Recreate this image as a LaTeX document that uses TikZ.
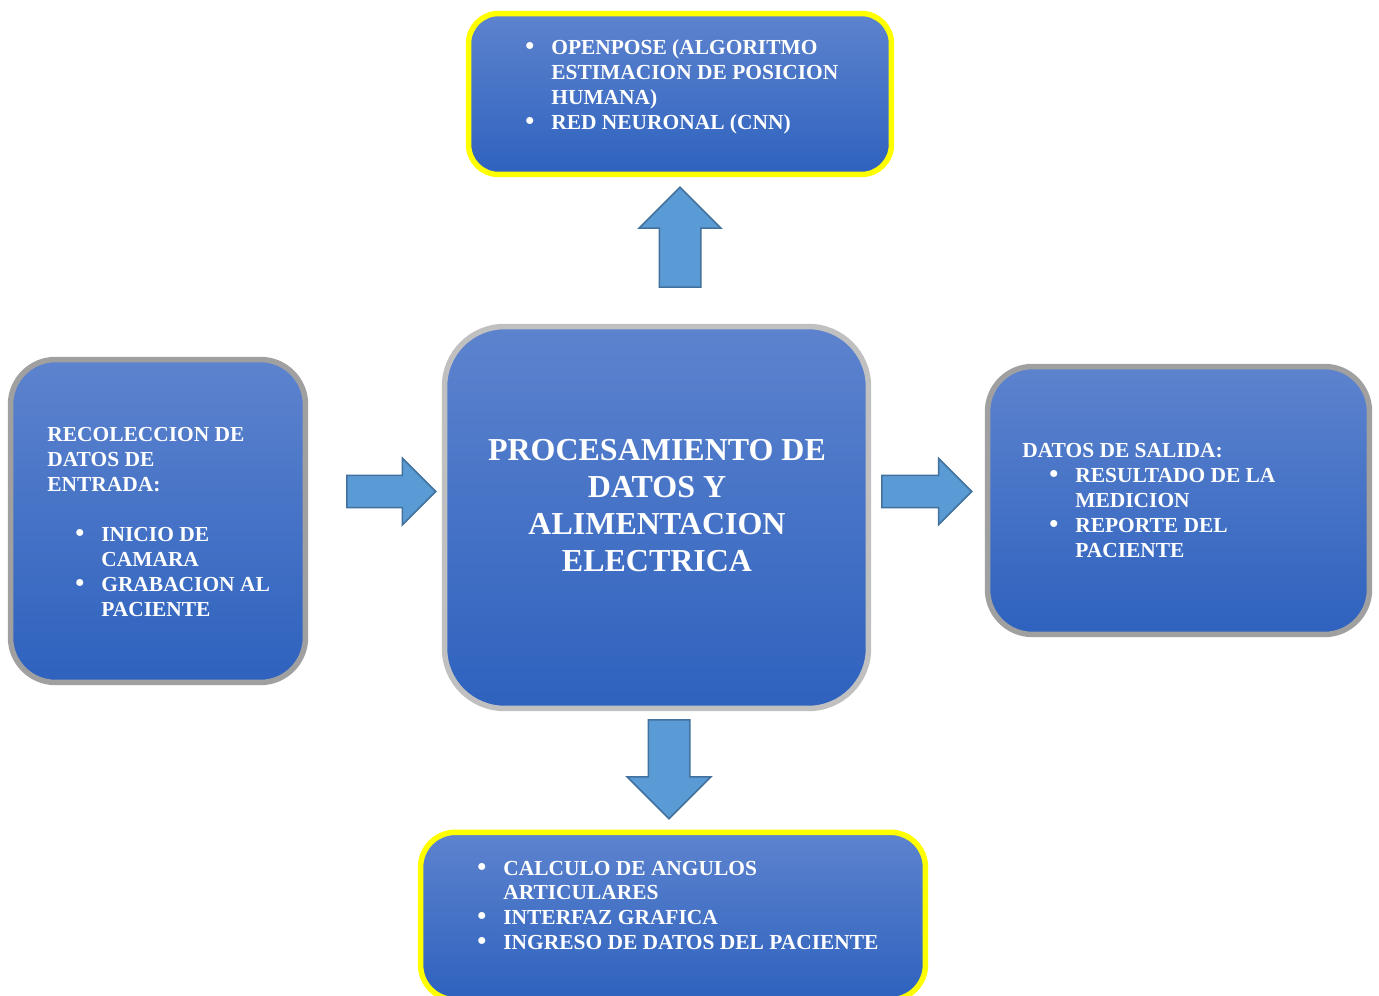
\documentclass[tikz,border=0pt]{standalone}
\usepackage{fontspec}
\setmainfont{Liberation Serif}
\usetikzlibrary{shapes.arrows}
\definecolor{boxtop}{RGB}{93,131,206}
\definecolor{boxbot}{RGB}{46,98,190}
\definecolor{rimyel}{RGB}{255,255,0}
\definecolor{rimgray}{RGB}{160,160,160}
\definecolor{rimlight}{RGB}{192,192,192}
\definecolor{arrfill}{RGB}{91,155,213}
\definecolor{arrdraw}{RGB}{65,113,156}
\newcommand{\bul}{\makebox[0.52cm][l]{\scalebox{1.2}{\textbullet}}}
\begin{document}
\begin{tikzpicture}[x=0.02cm, y=-0.02cm, box/.style={top color=boxtop, bottom color=boxbot, line width=0.11cm, inner sep=0}, hibox/.style={box, draw=rimyel}, grbox/.style={box, draw=rimgray}, txt/.style={text=white, font=\fontsize{12.2}{14.2}\selectfont\bfseries, inner sep=0, anchor=base west}, blk/.style={single arrow, draw=arrdraw, fill=arrfill, line width=0.03cm, inner xsep=0, anchor=tail}]
\useasboundingbox (0,0) rectangle (1379,996);
\fill[white] (0,0) rectangle (1379,996);
\clip (0,0) rectangle (1379,996);
% cajas
\node[hibox, rounded corners=0.6cm, minimum width=8.46cm, minimum height=3.22cm] (pose) at (680,94) {};
\node[grbox, rounded corners=0.9cm, minimum width=5.9cm, minimum height=6.46cm] (entrada) at (158,521) {};
\node[box, draw=rimlight, rounded corners=1.2cm, minimum width=8.48cm, minimum height=7.64cm] (proc) at (656.5,517.5) {};
\node[grbox, rounded corners=0.9cm, minimum width=7.64cm, minimum height=5.36cm] (salida) at (1178.5,500.5) {};
\node[hibox, rounded corners=0.7cm, minimum width=10.1cm, minimum height=3.35cm] (calc) at (673,916) {};
% flechas
\node[blk, rotate=90, minimum height=2cm, inner ysep=0.4cm, single arrow head extend=0.4cm] (a1) at (680,288) {};
\node[blk, minimum height=1.78cm, inner ysep=0.31cm, single arrow head extend=0.34cm] (a2) at (346,491.5) {};
\node[blk, minimum height=1.8cm, inner ysep=0.31cm, single arrow head extend=0.34cm] (a3) at (881,491.5) {};
\node[blk, rotate=-90, minimum height=1.98cm, inner ysep=0.4cm, single arrow head extend=0.42cm] (a4) at (669,719) {};
% textos
\node[txt] (tpose) at (525,55) {\begin{tabular}[t]{@{}l@{}l@{}}
\bul & OPENPOSE (ALGORITMO\\
 & ESTIMACION DE POSICION\\
 & HUMANA)\\
\bul & RED NEURONAL (CNN)
\end{tabular}};
\node[txt] (tentrada) at (47,442) {\begin{tabular}[t]{@{}l@{}l@{}l@{}}
\multicolumn{3}{@{}l@{}}{RECOLECCION DE}\\
\multicolumn{3}{@{}l@{}}{DATOS DE}\\
\multicolumn{3}{@{}l@{}}{ENTRADA:}\\
 & & \\
\hspace*{0.56cm} & \bul & INICIO DE\\
 & & CAMARA\\
 & \bul & GRABACION AL\\
 & & PACIENTE
\end{tabular}};
\node[txt, anchor=base, font=\fontsize{18.2}{21}\selectfont\bfseries] (tproc) at (657,461) {\begin{tabular}[t]{@{}c@{}}
PROCESAMIENTO DE\\
DATOS Y\\
ALIMENTACION\\
ELECTRICA
\end{tabular}};
\node[txt] (tsalida) at (1022,458) {\begin{tabular}[t]{@{}l@{}l@{}l@{}}
\multicolumn{3}{@{}l@{}}{DATOS DE SALIDA:}\\
\hspace*{0.54cm} & \bul & RESULTADO DE LA\\
 & & MEDICION\\
 & \bul & REPORTE DEL\\
 & & PACIENTE
\end{tabular}};
\node[txt] (tcalc) at (477,875) {\begin{tabular}[t]{@{}l@{}l@{}}
\bul & CALCULO DE ANGULOS\\
 & ARTICULARES\\
\bul & INTERFAZ GRAFICA\\
\bul & INGRESO DE DATOS DEL PACIENTE
\end{tabular}};
\end{tikzpicture}
\end{document}
